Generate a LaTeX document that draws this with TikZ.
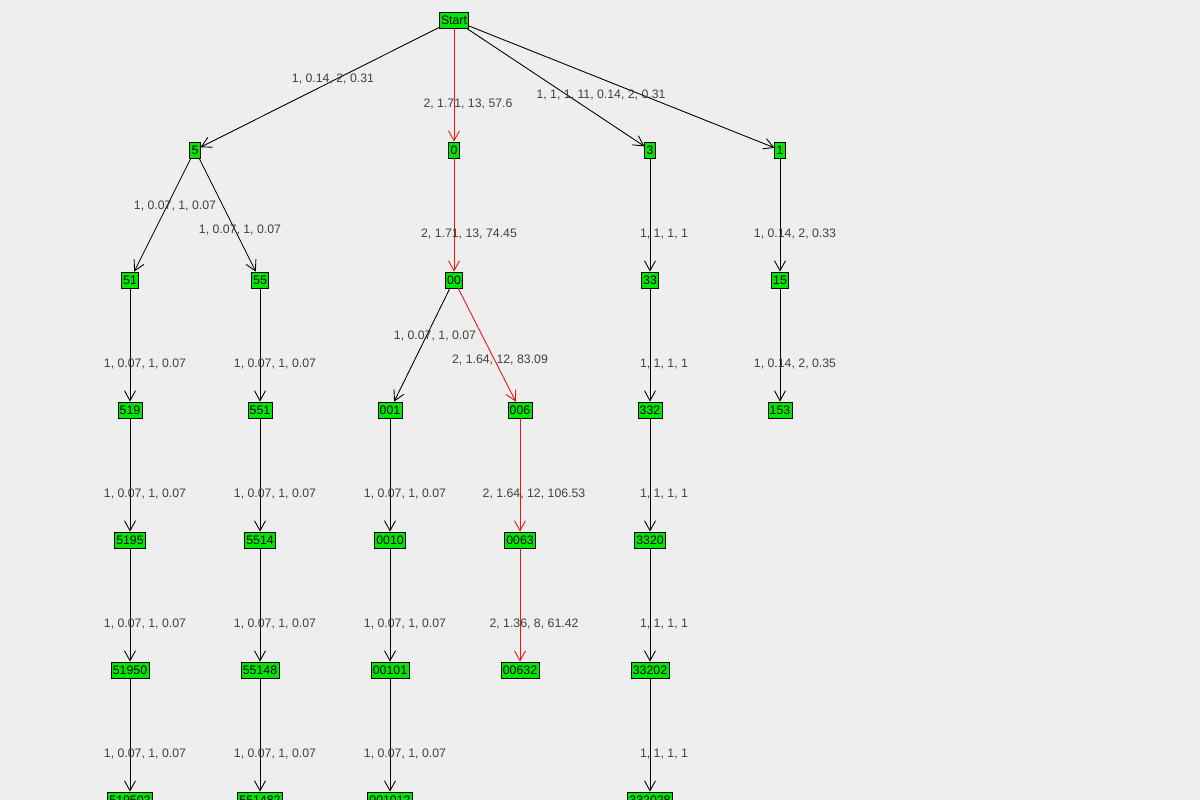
\documentclass[tikz,border=0pt]{standalone}
\usepackage{fontspec}
\setmainfont{Liberation Sans}
\usetikzlibrary{arrows.meta}
\definecolor{bgrey}{RGB}{238,238,238}
\definecolor{nodegreen}{RGB}{0,230,0}
\definecolor{pathred}{RGB}{230,20,20}
\tikzset{
  state/.style={draw=black, fill=nodegreen, inner sep=1pt, minimum height=0.32cm, font=\fontsize{7}{8}\selectfont},
  elabel/.style={font=\fontsize{7}{8}\selectfont, text=black!75},
  edge/.style={-{Straight Barb[length=0.2cm,width=0.22cm]}, line width=0.5pt},
  redge/.style={edge, draw=pathred}
}
\begin{document}
\begin{tikzpicture}[x=0.02cm, y=-0.02cm]
    \fill[bgrey] (0,0) rectangle (1200,800);
    \useasboundingbox (0,0) rectangle (1200,800);
    \begin{scope}
    \clip (0,0) rectangle (1200,800);
    % Level 0
    \node[state] (start) at (454,20) {Start};

    % Level 1
    \node[state] (n5) at (195,150) {5};
    \node[state] (n0) at (454,150) {0};
    \node[state] (n3) at (650,150) {3};
    \node[state] (n1) at (780,150) {1};

    % Level 2
    \node[state] (n51) at (130,280) {51};
    \node[state] (n55) at (260,280) {55};
    \node[state] (n00) at (454,280) {00};
    \node[state] (n33) at (650,280) {33};
    \node[state] (n15) at (780,280) {15};

    % Level 3
    \node[state] (n519) at (130,410) {519};
    \node[state] (n551) at (260,410) {551};
    \node[state] (n001) at (390,410) {001};
    \node[state] (n006) at (520,410) {006};
    \node[state] (n332) at (650,410) {332};
    \node[state] (n153) at (780,410) {153};

    % Level 4
    \node[state] (n5195) at (130,540) {5195};
    \node[state] (n5514) at (260,540) {5514};
    \node[state] (n0010) at (390,540) {0010};
    \node[state] (n0063) at (520,540) {0063};
    \node[state] (n3320) at (650,540) {3320};

    % Level 5
    \node[state] (n51950) at (130,670) {51950};
    \node[state] (n55148) at (260,670) {55148};
    \node[state] (n00101) at (390,670) {00101};
    \node[state] (n00632) at (520,670) {00632};
    \node[state] (n33202) at (650,670) {33202};

    % Level 6 (cut by the border)
    \node[state] (n519502) at (130,800) {519502};
    \node[state] (n551482) at (260,800) {551482};
    \node[state] (n001012) at (390,800) {001012};
    \node[state] (n332028) at (650,800) {332028};

    % Connectors
    \draw[edge] (start) -- (n5);
    \draw[redge] (start) -- (n0);
    \draw[edge] (start) -- (n3);
    \draw[edge] (start) -- (n1);
    \draw[edge] (n5) -- (n51);
    \draw[edge] (n5) -- (n55);
    \draw[redge] (n0) -- (n00);
    \draw[edge] (n3) -- (n33);
    \draw[edge] (n1) -- (n15);
    \draw[edge] (n51) -- (n519);
    \draw[edge] (n55) -- (n551);
    \draw[edge] (n00) -- (n001);
    \draw[redge] (n00) -- (n006);
    \draw[edge] (n33) -- (n332);
    \draw[edge] (n15) -- (n153);
    \draw[edge] (n519) -- (n5195);
    \draw[edge] (n551) -- (n5514);
    \draw[edge] (n001) -- (n0010);
    \draw[redge] (n006) -- (n0063);
    \draw[edge] (n332) -- (n3320);
    \draw[edge] (n5195) -- (n51950);
    \draw[edge] (n5514) -- (n55148);
    \draw[edge] (n0010) -- (n00101);
    \draw[redge] (n0063) -- (n00632);
    \draw[edge] (n3320) -- (n33202);
    \draw[edge] (n51950) -- (n519502);
    \draw[edge] (n55148) -- (n551482);
    \draw[edge] (n00101) -- (n001012);
    \draw[edge] (n33202) -- (n332028);

    % Edge labels
    \node[elabel] (l1) at (333,79) {1, 0.14, 2, 0.31};
    \node[elabel] (l2) at (468,104) {2, 1.71, 13, 57.6};
    \node[elabel] (l3) at (601,95) {1, 1, 1, 11, 0.14, 2, 0.31};
    \node[elabel] (l4) at (175,206) {1, 0.07, 1, 0.07};
    \node[elabel] (l5) at (240,230) {1, 0.07, 1, 0.07};
    \node[elabel] (l6) at (469,234) {2, 1.71, 13, 74.45};
    \node[elabel] (l7) at (664,234) {1, 1, 1, 1};
    \node[elabel] (l8) at (795,234) {1, 0.14, 2, 0.33};
    \node[elabel] (l9) at (145,364) {1, 0.07, 1, 0.07};
    \node[elabel] (l10) at (275,364) {1, 0.07, 1, 0.07};
    \node[elabel] (l11) at (435,336) {1, 0.07, 1, 0.07};
    \node[elabel] (l12) at (500,360) {2, 1.64, 12, 83.09};
    \node[elabel] (l13) at (664,364) {1, 1, 1, 1};
    \node[elabel] (l14) at (795,364) {1, 0.14, 2, 0.35};
    \node[elabel] (l15) at (145,494) {1, 0.07, 1, 0.07};
    \node[elabel] (l16) at (275,494) {1, 0.07, 1, 0.07};
    \node[elabel] (l17) at (405,494) {1, 0.07, 1, 0.07};
    \node[elabel] (l18) at (534,494) {2, 1.64, 12, 106.53};
    \node[elabel] (l19) at (664,494) {1, 1, 1, 1};
    \node[elabel] (l20) at (145,624) {1, 0.07, 1, 0.07};
    \node[elabel] (l21) at (275,624) {1, 0.07, 1, 0.07};
    \node[elabel] (l22) at (405,624) {1, 0.07, 1, 0.07};
    \node[elabel] (l23) at (534,624) {2, 1.36, 8, 61.42};
    \node[elabel] (l24) at (664,624) {1, 1, 1, 1};
    \node[elabel] (l25) at (145,754) {1, 0.07, 1, 0.07};
    \node[elabel] (l26) at (275,754) {1, 0.07, 1, 0.07};
    \node[elabel] (l27) at (405,754) {1, 0.07, 1, 0.07};
    \node[elabel] (l28) at (664,754) {1, 1, 1, 1};
    \end{scope}
\end{tikzpicture}
\end{document}
